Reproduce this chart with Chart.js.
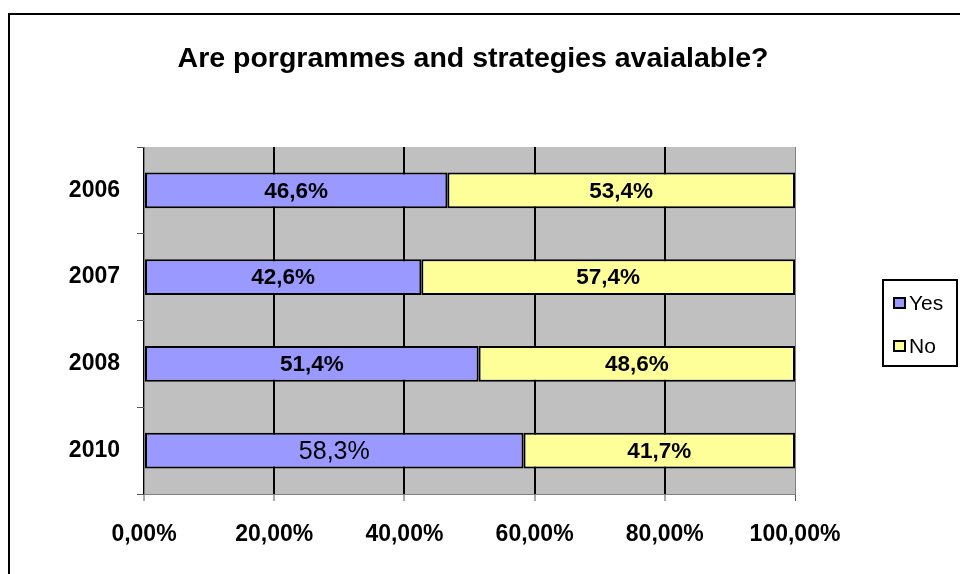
<!DOCTYPE html>
<html>
<head>
<meta charset="utf-8">
<script src="https://cdn.jsdelivr.net/npm/chart.js@4.4.1/dist/chart.umd.min.js"></script>
<style>
  html, body { margin: 0; padding: 0; background: #fff; }
  #wrap { width: 960px; height: 574px; position: relative; }
</style>
</head>
<body>
<div id="wrap"><canvas id="chart" width="960" height="574"></canvas></div>
<script>
const titleText = "Are porgrammes and strategies avaialable?";
const years = ["2006", "2007", "2008", "2010"];
const yesValues = [46.6, 42.6, 51.4, 58.3];
const noValues = [53.4, 57.4, 48.6, 41.7];
const xTicks = [0, 20, 40, 60, 80, 100];

const FONT = "'Liberation Sans', Arial, sans-serif";

function pct(v, digits) {
  return v.toFixed(digits).replace(".", ",") + "%";
}

// vẽ khung ngoài, nền xám của vùng vẽ và tiêu đề
const backdrop = {
  id: "backdrop",
  beforeDraw(chart) {
    const ctx = chart.ctx;
    const a = chart.chartArea;
    ctx.save();
    ctx.fillStyle = "#fff";
    ctx.fillRect(0, 0, chart.width, chart.height);
    ctx.fillStyle = "#C0C0C0";
    ctx.fillRect(a.left, a.top, a.right - a.left, a.bottom - a.top);
    ctx.strokeStyle = "#000";
    ctx.lineWidth = 2;
    ctx.strokeRect(9, 14, 1000, 1000);
    ctx.fillStyle = "#000";
    ctx.font = "bold 28.5px " + FONT;
    ctx.textAlign = "center";
    ctx.textBaseline = "alphabetic";
    ctx.fillText(titleText, 473, 67);
    ctx.restore();
  },
};

// nhãn phần trăm bên trong mỗi thanh
const barLabels = {
  id: "barLabels",
  afterDatasetsDraw(chart) {
    const ctx = chart.ctx;
    ctx.save();
    ctx.fillStyle = "#000";
    ctx.textAlign = "center";
    ctx.textBaseline = "middle";
    chart.data.datasets.forEach((ds, di) => {
      chart.getDatasetMeta(di).data.forEach((bar, i) => {
        // nhãn 2010 - Yes không in đậm như bản gốc
        const plain = di === 0 && i === 3;
        ctx.font = (plain ? "25px " : "bold 22.5px ") + FONT;
        const p = bar.getCenterPoint();
        ctx.fillText(pct(ds.data[i], 1), p.x, p.y + 1);
      });
    });
    ctx.restore();
  },
};

// chú thích bên phải có khung
const boxLegend = {
  id: "boxLegend",
  afterDraw(chart) {
    const ctx = chart.ctx;
    ctx.save();
    ctx.strokeStyle = "#000";
    ctx.lineWidth = 2;
    ctx.strokeRect(883, 280, 74, 86);
    ctx.font = "21px " + FONT;
    ctx.textBaseline = "middle";
    chart.data.datasets.forEach((ds, i) => {
      const y = 303 + i * 43;
      ctx.fillStyle = ds.backgroundColor;
      ctx.fillRect(894, y - 5, 11, 10);
      ctx.lineWidth = 2;
      ctx.strokeRect(894, y - 5, 11, 10);
      ctx.fillStyle = "#000";
      ctx.fillText(ds.label, 909, y + 1);
    });
    ctx.restore();
  },
};

new Chart(document.getElementById("chart"), {
  type: "bar",
  data: {
    labels: years,
    datasets: [
      {
        label: "Yes",
        data: yesValues,
        backgroundColor: "#9999FF",
        borderColor: "#000",
        borderWidth: 2,
        borderSkipped: false,
        barPercentage: 0.41,
        categoryPercentage: 1,
      },
      {
        label: "No",
        data: noValues,
        backgroundColor: "#FFFF99",
        borderColor: "#000",
        borderWidth: 2,
        borderSkipped: false,
        barPercentage: 0.41,
        categoryPercentage: 1,
      },
    ],
  },
  options: {
    indexAxis: "y",
    responsive: false,
    animation: false,
    layout: { padding: { left: 0, right: 165, top: 147, bottom: 0 } },
    plugins: {
      legend: { display: false },
      title: { display: false },
      tooltip: { enabled: false },
    },
    scales: {
      x: {
        stacked: true,
        min: 0,
        max: 100,
        afterBuildTicks(scale) {
          scale.ticks = xTicks.map((v) => ({ value: v }));
        },
        afterFit(scale) {
          scale.height = 80;
        },
        border: { display: true, color: "#808080", width: 1 },
        grid: {
          color: (c) => (c.tick && c.tick.value === 100 ? "#808080" : "#000"),
          lineWidth: (c) => (c.tick && c.tick.value === 100 ? 1 : 2),
          tickColor: "#555",
          tickWidth: 1,
          tickLength: 7,
        },
        ticks: {
          color: "#000",
          padding: 20,
          font: { family: FONT, size: 23, weight: "bold" },
          callback: (v) => pct(v, 2),
        },
      },
      y: {
        stacked: true,
        afterFit(scale) {
          scale.width = 144;
        },
        border: { display: true, color: "#808080", width: 1 },
        grid: {
          offset: true,
          drawOnChartArea: false,
          tickColor: "#555",
          tickLength: 7,
        },
        ticks: {
          color: "#000",
          padding: 17,
          font: { family: FONT, size: 23, weight: "bold" },
        },
      },
    },
  },
  plugins: [backdrop, barLabels, boxLegend],
});
</script>
</body>
</html>
